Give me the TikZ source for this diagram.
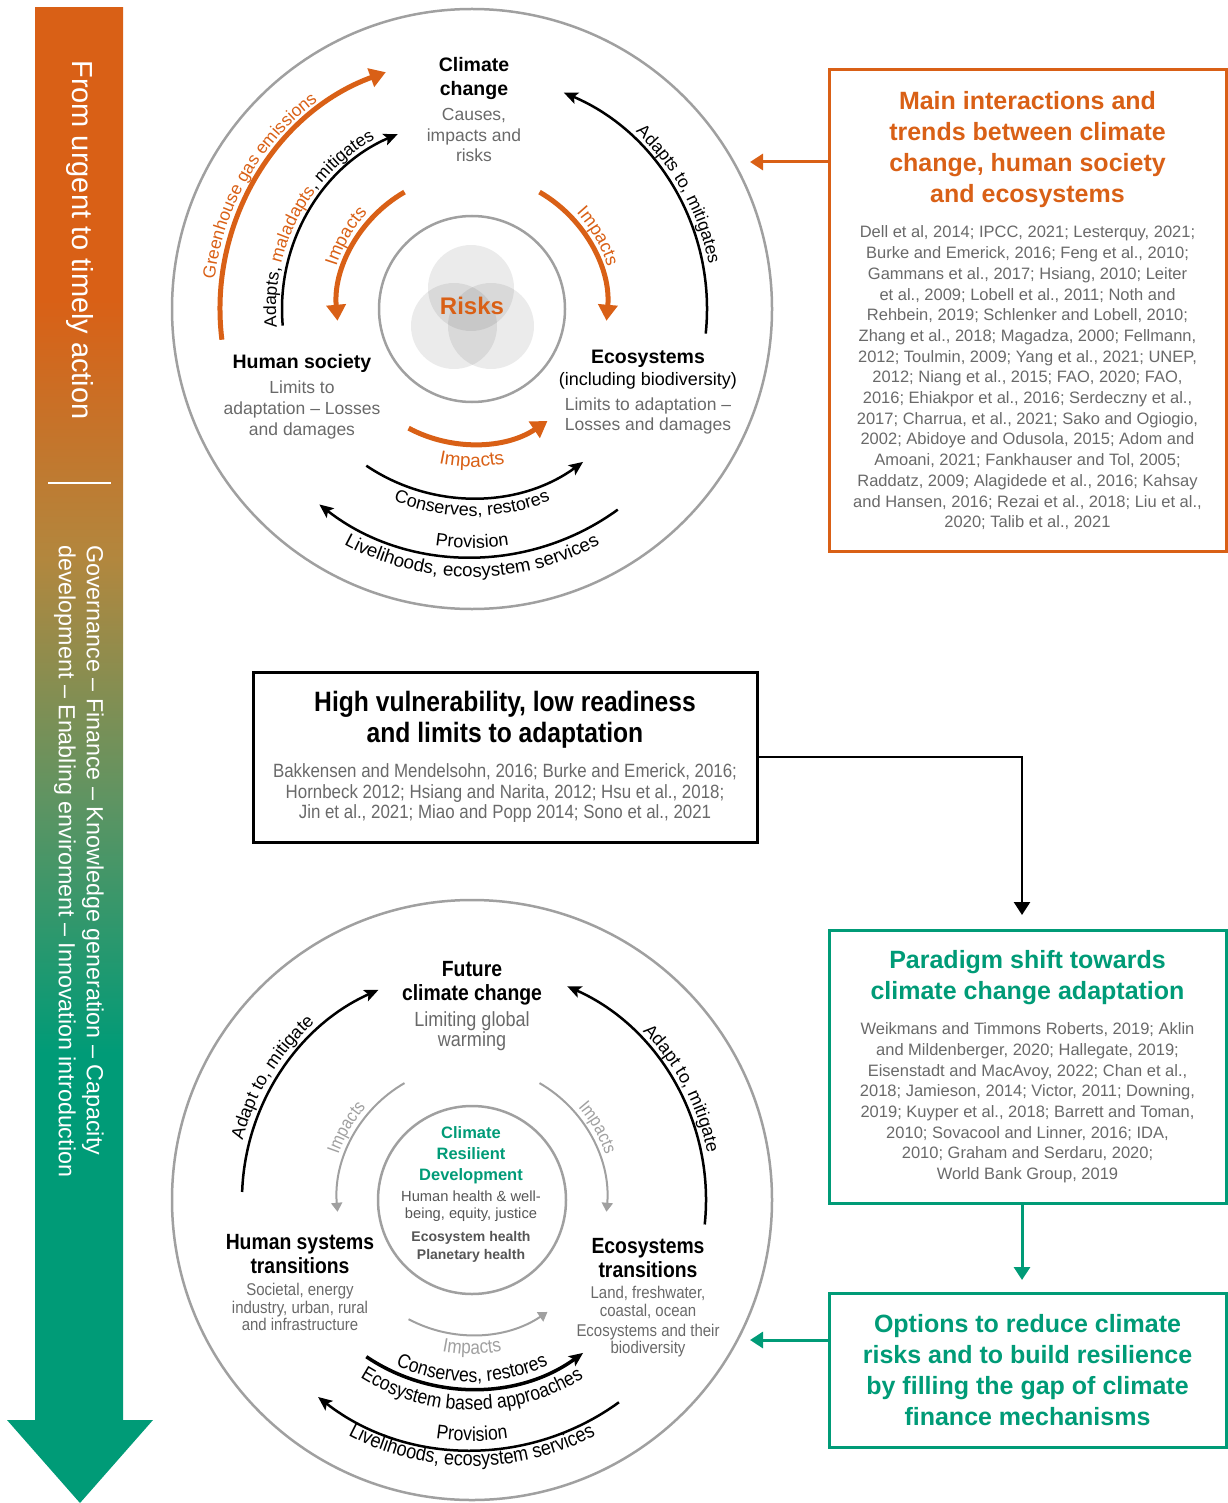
\documentclass[tikz,border=0pt]{standalone}
\usepackage{fontspec}
\setmainfont{Liberation Sans}
\newfontfamily\condensed[FakeStretch=0.88]{Liberation Sans}
\usetikzlibrary{arrows.meta,decorations.text}

\definecolor{orangec}{RGB}{217,96,22}
\definecolor{greenc}{RGB}{0,155,119}
\definecolor{ringgray}{RGB}{160,160,160}
\definecolor{textgray}{RGB}{105,105,105}
\definecolor{darkgraytext}{RGB}{85,85,85}

\pgfdeclareverticalshading{urgentshade}{100bp}{rgb(0bp)=(0,.608,.467); rgb(38bp)=(0,.608,.467); rgb(47bp)=(.373,.580,.384); rgb(55.5bp)=(.698,.529,.243); rgb(64.7bp)=(.851,.376,.086); rgb(100bp)=(.851,.376,.086)}

\newcommand{\fsize}[2]{\fontsize{#1}{#2}\selectfont}
\newcommand{\curvelabel}[6]{%
  \path[decorate,decoration={text along path,text align=center,text={|#5|#6}}]
    ([shift={(#3:#2)}]#1) arc[start angle=#3,end angle=#4,radius=#2];}

\tikzset{
  ring/.style={draw=ringgray,line width=2.5pt},
  venn/.style={fill=black,fill opacity=0.08},
  head/.style={align=center,font=\bfseries\fsize{19.5}{24}},
  sub/.style={align=center,text=textgray,font=\fsize{17.5}{20.7}},
  chead/.style={align=center,font=\condensed\bfseries\fsize{22}{24}},
  csub/.style={align=center,text=textgray,font=\condensed\fsize{17}{17.5}},
  orarrow/.style={orangec,line width=5pt,-{Triangle[length=16pt,width=19pt]}},
  blkarrow/.style={line width=2.5pt,-{Stealth[length=14pt,width=12pt,inset=3pt]}},
  grayarrow/.style={ringgray,line width=2pt,-{Triangle[length=9pt,width=11pt]}},
  linkarrow/.style={line width=3pt,-{Triangle[length=13pt,width=16pt]}},
  refbox/.style={draw,line width=3pt,align=flush center,inner sep=0pt,text width=392pt}
}

\begin{document}
\begin{tikzpicture}[x=1pt,y=1pt]
\useasboundingbox (0,0) rectangle (1227,-1503);

\shade[shading=urgentshade] (35,-8) rectangle (123,-1420);
\fill[greenc] (7,-1420) -- (153,-1420) -- (80,-1503) -- cycle;
\node[rotate=-90,text=white,font=\fsize{29}{34}] (urgent) at (80,-240) {From urgent to timely action};
\draw[white,line width=2pt] (48,-483) -- (111,-483);
\node[rotate=-90,anchor=north west,inner sep=0pt,align=left,text=white,font=\fsize{23.3}{28}] (enablers) at (104,-545)
  {Governance – Finance – Knowledge generation – Capacity\\development – Enabling enviroment – Innovation introduction};

\coordinate (topc) at (472,-309);
\draw[ring] (topc) circle[radius=300];
\draw[ring] (topc) circle[radius=93];
\fill[venn] ([shift={(-1,21)}]topc) circle[radius=43];
\fill[venn] ([shift={(-18,-17)}]topc) circle[radius=43];
\fill[venn] ([shift={(19,-17)}]topc) circle[radius=43];
\node[text=orangec,font=\bfseries\fsize{24}{28}] (risks) at (472,-306) {Risks};

\node[head] (climate) at (474,-79) {Climate\\change};
\node[sub] (causes) at (474,-135) {Causes,\\impacts and\\risks};
\node[head] (human) at (302,-363) {Human society};
\node[sub] (humanlim) at (302,-410) {Limits to\\adaptation – Losses\\and damages};
\node[head] (eco) at (648,-359) {Ecosystems};
\node[font=\fsize{18}{21}] (ecoincl) at (648,-381) {(including biodiversity)};
\node[sub] (ecolim) at (648,-416) {Limits to adaptation –\\Losses and damages};

\draw[orarrow] ([shift={(187:252)}]topc) arc[start angle=187,end angle=110,radius=252];
\curvelabel{topc}{259}{205}{95}{\fsize{17.5}{20}\color{orangec}}{Greenhouse gas emissions}
\draw[blkarrow] ([shift={(185:190)}]topc) arc[start angle=185,end angle=113,radius=190];
\curvelabel{topc}{196}{210}{95}{\fsize{17.5}{20}}{Adapts, |\fsize{17.5}{20}\color{orangec}|maladapts|\fsize{17.5}{20}\color{black}|, mitigates}
\draw[orarrow] ([shift={(120:135)}]topc) arc[start angle=120,end angle=185,radius=135];
\curvelabel{topc}{142}{185}{115}{\fsize{18}{20}\color{orangec}}{Impacts}
\draw[orarrow] ([shift={(60:135)}]topc) arc[start angle=60,end angle=-5,radius=135];
\curvelabel{topc}{142}{65}{-5}{\fsize{18}{20}\color{orangec}}{Impacts}
\draw[blkarrow] ([shift={(-6:235)}]topc) arc[start angle=-6,end angle=67,radius=235];
\curvelabel{topc}{241}{75}{-17}{\fsize{17.5}{20}}{Adapts to, mitigates}
\draw[orarrow] ([shift={(242:135)}]topc) arc[start angle=242,end angle=304,radius=135];
\curvelabel{topc}{158}{240}{300}{\fsize{19}{20}\color{orangec}}{Impacts}
\draw[blkarrow] ([shift={(236:189)}]topc) arc[start angle=236,end angle=306,radius=189];
\curvelabel{topc}{207}{225}{315}{\fsize{18}{20}}{Conserves, restores}
\draw[blkarrow] ([shift={(306:248)}]topc) arc[start angle=306,end angle=232,radius=248];
\curvelabel{topc}{239}{240}{300}{\fsize{18}{20}}{Provision}
\curvelabel{topc}{268}{220}{320}{\fsize{18.7}{20}}{Livelihoods, ecosystem services}

\coordinate (botc) at (472,-1200);
\draw[ring] (botc) circle[radius=300];
\draw[ring] (botc) circle[radius=94];
\node[chead] (future) at (472,-983) {Future\\climate change};
\node[csub,font=\condensed\fsize{20.5}{20}] (limiting) at (472,-1031) {Limiting global\\warming};
\node[align=center,text=greenc,font=\bfseries\fsize{16.5}{21}] (crd) at (471,-1155) {Climate\\Resilient\\Development};
\node[align=center,text=darkgraytext,font=\fsize{14.7}{17}] (wellbeing) at (471,-1206.5) {Human health \& well-\\being, equity, justice};
\node[align=center,text=darkgraytext,font=\bfseries\fsize{14}{18}] (planetary) at (471,-1247) {Ecosystem health\\Planetary health};
\node[chead] (humansys) at (300,-1254) {Human systems\\transitions};
\node[csub] (societal) at (300,-1307) {Societal, energy\\industry, urban, rural\\and infrastructure};
\node[chead] (ecosys) at (648,-1258) {Ecosystems\\transitions};
\node[csub,font=\condensed\fsize{17}{18}] (land) at (648,-1302) {Land, freshwater,\\coastal, ocean};
\node[csub] (biodiv) at (648,-1340.5) {Ecosystems and their\\biodiversity};

\draw[blkarrow] ([shift={(178:230)}]botc) arc[start angle=178,end angle=114,radius=230];
\curvelabel{botc}{237}{200}{97}{\fsize{18}{20}}{Adapt to, mitigate}
\draw[blkarrow] ([shift={(-6:234)}]botc) arc[start angle=-6,end angle=66,radius=234];
\curvelabel{botc}{240}{80}{-24}{\fsize{18}{20}}{Adapt to, mitigate}
\draw[grayarrow] ([shift={(120:135)}]botc) arc[start angle=120,end angle=185,radius=135];
\curvelabel{botc}{141}{185}{115}{\condensed\fsize{18}{20}\color{ringgray}}{Impacts}
\draw[grayarrow] ([shift={(60:135)}]botc) arc[start angle=60,end angle=-5,radius=135];
\curvelabel{botc}{141}{65}{-5}{\condensed\fsize{18}{20}\color{ringgray}}{Impacts}
\draw[grayarrow] ([shift={(242:135)}]botc) arc[start angle=242,end angle=304,radius=135];
\curvelabel{botc}{154}{240}{300}{\condensed\fsize{19.5}{20}\color{ringgray}}{Impacts}
\draw[blkarrow,line width=3.5pt] ([shift={(236:189)}]botc) arc[start angle=236,end angle=306,radius=189];
\curvelabel{botc}{182}{225}{315}{\condensed\fsize{20}{22}}{Conserves, restores}
\curvelabel{botc}{210}{220}{320}{\condensed\fsize{20}{22}}{Ecosystem based approaches}
\draw[blkarrow] ([shift={(306:250)}]botc) arc[start angle=306,end angle=232,radius=250];
\curvelabel{botc}{241}{240}{300}{\condensed\fsize{20}{22}}{Provision}
\curvelabel{botc}{266}{220}{320}{\condensed\fsize{20.5}{22}}{Livelihoods, ecosystem services}

\node[refbox,draw=orangec,minimum width=397pt,minimum height=481pt] (mainbox) at (1027.5,-310.5)
  {\spaceskip=0pt\xspaceskip=0pt\color{orangec}\bfseries\fsize{25}{31}Main interactions and\\trends between climate\\change, human society\\and ecosystems\\[15pt]
   \color{textgray}\mdseries\fsize{16.5}{20.7}Dell et al, 2014; IPCC, 2021; Lesterquy, 2021;\\Burke and Emerick, 2016; Feng et al., 2010;\\Gammans et al., 2017; Hsiang, 2010; Leiter\\et al., 2009; Lobell et al., 2011; Noth and\\Rehbein, 2019; Schlenker and Lobell, 2010;\\Zhang et al., 2018; Magadza, 2000; Fellmann,\\2012; Toulmin, 2009; Yang et al., 2021; UNEP,\\2012; Niang et al., 2015; FAO, 2020; FAO,\\2016; Ehiakpor et al., 2016; Serdeczny et al.,\\2017; Charrua, et al., 2021; Sako and Ogiogio,\\2002; Abidoye and Odusola, 2015; Adom and\\Amoani, 2021; Fankhauser and Tol, 2005;\\Raddatz, 2009; Alagidede et al., 2016; Kahsay\\and Hansen, 2016; Rezai et al., 2018; Liu et al.,\\2020; Talib et al., 2021\par};
\node[refbox,minimum width=504pt,minimum height=170pt,text width=500pt] (vulnbox) at (505,-757)
  {\spaceskip=0pt\xspaceskip=0pt\condensed\bfseries\fsize{28}{31}High vulnerability, low readiness\\and limits to adaptation\\[15pt]
   \color{textgray}\mdseries\fsize{19.2}{20.5}Bakkensen and Mendelsohn, 2016; Burke and Emerick, 2016;\\Hornbeck 2012; Hsiang and Narita, 2012; Hsu et al., 2018;\\Jin et al., 2021; Miao and Popp 2014; Sono et al., 2021\par};
\node[refbox,draw=greenc,minimum width=397pt,minimum height=273pt] (shiftbox) at (1027.5,-1066.5)
  {\spaceskip=0pt\xspaceskip=0pt\color{greenc}\bfseries\fsize{25}{31}Paradigm shift towards\\climate change adaptation\\[15pt]
   \color{textgray}\mdseries\fsize{16.5}{20.7}Weikmans and Timmons Roberts, 2019; Aklin\\and Mildenberger, 2020; Hallegate, 2019;\\Eisenstadt and MacAvoy, 2022; Chan et al.,\\2018; Jamieson, 2014; Victor, 2011; Downing,\\2019; Kuyper et al., 2018; Barrett and Toman,\\2010; Sovacool and Linner, 2016; IDA,\\2010; Graham and Serdaru, 2020;\\World Bank Group, 2019\par};
\node[refbox,draw=greenc,minimum width=397pt,minimum height=154pt] (optbox) at (1027.5,-1370)
  {\spaceskip=0pt\xspaceskip=0pt\color{greenc}\bfseries\fsize{25}{31.3}Options to reduce climate\\risks and to build resilience\\by filling the gap of climate\\finance mechanisms\par};

\coordinate (otip) at (750,-162);
\coordinate (vtip) at (1022,-915);
\coordinate (gtip) at (1022,-1280);
\coordinate (ltip) at (750,-1340);
\draw[linkarrow,orangec] (mainbox.west |- otip) -- (otip);
\draw[linkarrow,line width=2.5pt] (vulnbox.east) -| (vtip);
\draw[linkarrow,greenc] (shiftbox.south -| gtip) -- (gtip);
\draw[linkarrow,greenc] (optbox.west |- ltip) -- (ltip);
\end{tikzpicture}
\end{document}
